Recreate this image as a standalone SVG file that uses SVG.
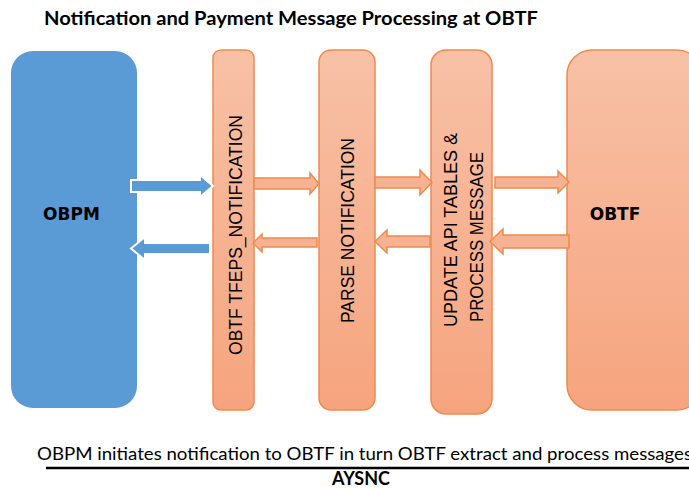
<svg xmlns="http://www.w3.org/2000/svg" width="689" height="489" viewBox="0 0 689 489">
<defs>
<linearGradient id="og" x1="0" y1="0" x2="0" y2="1">
<stop offset="0" stop-color="#F8C1A6"/>
<stop offset="1" stop-color="#F6A47E"/>
</linearGradient>
<style>
.blue{fill:#5B9BD5;}
.orange{fill:url(#og);stroke:#F08A4B;stroke-width:1.5;}
.barr{fill:#5B9BD5;stroke:#FFFFFF;stroke-width:2;}
.oarr{fill:#F6B293;stroke:#F08A4B;stroke-width:1.5;}
.lbl{font-family:"DejaVu Sans",sans-serif;font-weight:bold;font-size:17px;fill:#000;}
.vt{font-family:"Liberation Sans",Arial,sans-serif;font-size:18px;fill:#000;}
.cap{font-family:Lato,"Liberation Sans",sans-serif;font-size:18px;fill:#000;}
</style>
</defs>
<rect width="689" height="489" fill="#FFFFFF"/>
<text class="cap" x="44" y="25" font-weight="bold" textLength="494" lengthAdjust="spacingAndGlyphs">Notification and Payment Message Processing at OBTF</text>
<g id="obpm">
<rect class="blue" x="11" y="51" width="126" height="357" rx="22"/>
<text class="lbl" x="71.5" y="220" text-anchor="middle">OBPM</text>
</g>
<g id="tfeps">
<rect class="orange" x="213" y="50" width="41" height="360" rx="8"/>
<text class="vt" transform="translate(242,235) rotate(-90)" text-anchor="middle" textLength="240" lengthAdjust="spacingAndGlyphs">OBTF TFEPS_NOTIFICATION</text>
</g>
<g id="parse">
<rect class="orange" x="319" y="50" width="56" height="360" rx="12"/>
<text class="vt" transform="translate(354,230.5) rotate(-90)" text-anchor="middle" textLength="185" lengthAdjust="spacingAndGlyphs">PARSE NOTIFICATION</text>
</g>
<g id="update">
<rect class="orange" x="431" y="50" width="61" height="364" rx="15"/>
<text class="vt" transform="translate(457,230) rotate(-90)" text-anchor="middle" textLength="194" lengthAdjust="spacingAndGlyphs">UPDATE API TABLES &amp;</text>
<text class="vt" transform="translate(483,237) rotate(-90)" text-anchor="middle" textLength="170" lengthAdjust="spacingAndGlyphs">PROCESS MESSAGE</text>
</g>
<g id="obtf">
<rect class="orange" x="567" y="50" width="135" height="360" rx="25"/>
<text class="lbl" x="615" y="220" text-anchor="middle">OBTF</text>
</g>
<g id="connectors">
<path class="barr" d="M131,180 H200 V175 L213,186 L200,197 V192 H131 Z"/>
<path class="barr" d="M210,243 H145 V237 L131,248.5 L145,260 V254 H210 Z"/>
<path class="oarr" d="M254,178 H310 V173 L319,183.5 L310,194 V189 H254 Z"/>
<path class="oarr" d="M317,238 H262 V234 L253,243 L262,252 V247 H317 Z"/>
<path class="oarr" d="M375,177 H420 V170 L432,182.5 L420,195 V188 H375 Z"/>
<path class="oarr" d="M430,236 H387 V230 L375,241.5 L387,253 V247 H430 Z"/>
<path class="oarr" d="M495,177 H558 V171 L569,182 L558,193 V188 H495 Z"/>
<path class="oarr" d="M569,235 H503 V229 L490,241.5 L503,254 V248 H569 Z"/>
</g>
<text class="cap" x="37" y="460" textLength="655" lengthAdjust="spacingAndGlyphs">OBPM initiates notification to OBTF in turn OBTF extract and process messages</text>
<line x1="46" y1="468" x2="689" y2="468" stroke="#000" stroke-width="2.5"/>
<text class="cap" x="361" y="485" text-anchor="middle" font-weight="bold" font-size="17" textLength="58" lengthAdjust="spacingAndGlyphs">AYSNC</text>
</svg>
